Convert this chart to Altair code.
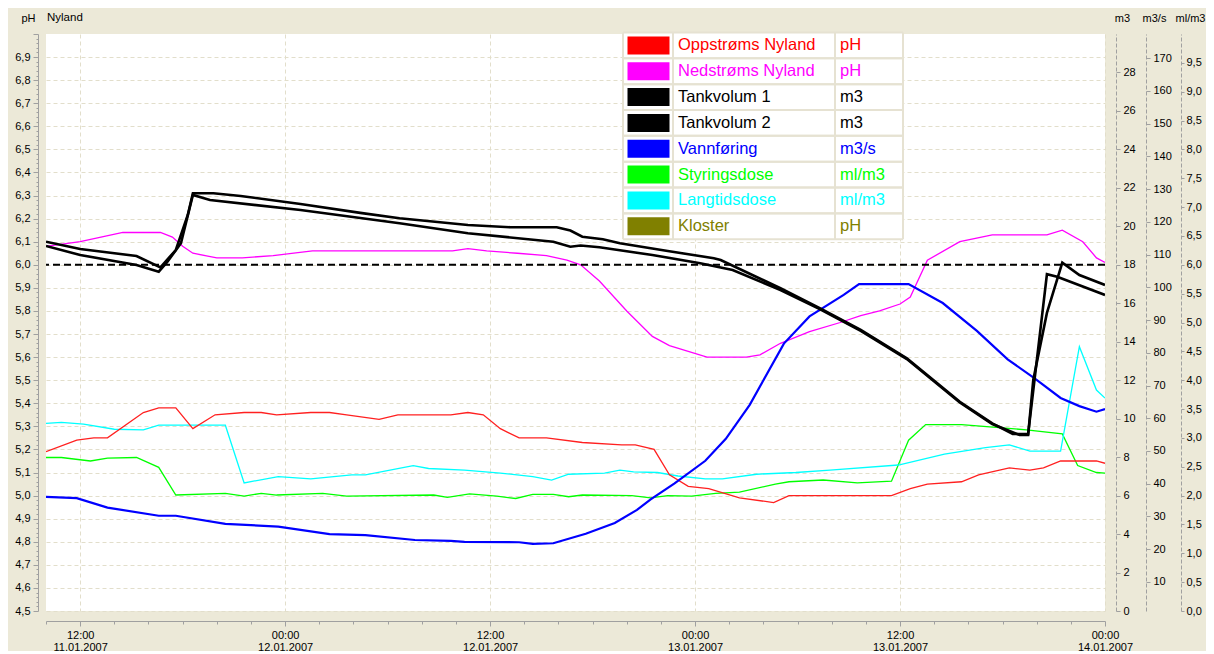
import altair as alt
import pandas as pd

FONT = "Liberation Sans"
GRID_C = "#E2DECB"
AXIS_C = "#A0A0A0"

# ---- time axis: hours counted from 11.01.2007 10:00 (left edge) to 14.01.2007 00:00 ----
x_ticks = list(range(0, 63, 2))

# ---- series (hours, value) ----
opp_t = [0, 1.8, 2.8, 3.6, 5.7, 6.6, 7.6, 8.6, 9.9, 11.6, 12.6, 13.5, 15.5, 16.6, 17.6, 19.5, 20.6,
         23.7, 24.7, 25.6, 26.6, 27.7, 29.3, 31.4, 33.7, 34.5, 35.6, 36.5, 37.6, 38.8, 40.6, 42.6,
         43.5, 49.5, 50.6, 51.6, 53.6, 54.6, 56.4, 57.6, 58.4, 59.4, 60.4, 61.5, 62]
opp_v = [5.19, 5.24, 5.25, 5.25, 5.36, 5.38, 5.38, 5.29, 5.35, 5.36, 5.36, 5.35, 5.36, 5.36, 5.35,
         5.33, 5.35, 5.35, 5.36, 5.35, 5.29, 5.25, 5.25, 5.23, 5.22, 5.22, 5.20, 5.09, 5.04, 5.03,
         4.99, 4.97, 5.00, 5.00, 5.03, 5.05, 5.06, 5.09, 5.12, 5.11, 5.12, 5.15, 5.15, 5.15, 5.14]

ned_t = [0, 2.0, 4.5, 6.7, 7.4, 8.0, 8.6, 10.0, 11.5, 13.3, 15.6, 21.9, 23.8, 24.7, 25.8, 27.6,
         29.3, 30.5, 31.3, 32.4, 34.0, 35.5, 36.5, 38.7, 41.0, 41.8, 43.0, 44.7, 46.5, 47.7, 48.8,
         50.0, 50.6, 51.6, 53.5, 55.4, 56.9, 58.6, 59.5, 60.7, 61.5, 62]
ned_v = [6.08, 6.10, 6.14, 6.14, 6.12, 6.08, 6.05, 6.03, 6.03, 6.04, 6.06, 6.06, 6.06, 6.07, 6.06,
         6.05, 6.04, 6.02, 6.00, 5.93, 5.80, 5.69, 5.65, 5.60, 5.60, 5.61, 5.66, 5.71, 5.75, 5.78,
         5.80, 5.83, 5.86, 6.02, 6.10, 6.13, 6.13, 6.13, 6.15, 6.10, 6.03, 6.01]

tank1_t = [0, 2.0, 5.3, 6.7, 7.6, 8.3, 8.6, 9.8, 11.4, 14.9, 18.4, 20.7, 24.7, 27.2, 29.9, 30.7,
           31.4, 32.6, 33.6, 36.4, 39.1, 39.5, 43.0, 45.3, 47.7, 50.4, 53.5, 55.4, 56.6, 57.5,
           58.6, 59.2, 62]
tank1_v = [19.20, 18.82, 18.46, 17.87, 18.77, 20.59, 21.72, 21.72, 21.58, 21.16, 20.70, 20.42,
           20.07, 19.95, 19.95, 19.78, 19.46, 19.33, 19.12, 18.72, 18.34, 18.25, 16.78, 15.74,
           14.61, 13.14, 10.88, 9.76, 9.20, 9.20, 17.51, 17.38, 16.43]

tank2_t = [0, 2.0, 5.3, 6.6, 7.1, 7.9, 8.6, 9.6, 14.9, 20.7, 24.7, 29.7, 30.7, 31.3, 32.4, 35.5,
           38.3, 40.2, 43.0, 45.3, 47.7, 50.4, 53.5, 55.4, 57.0, 57.5, 57.8, 58.6, 59.5, 60.5, 62]
tank2_v = [18.98, 18.51, 17.99, 17.64, 18.15, 19.12, 21.63, 21.37, 20.85, 20.16, 19.64, 19.20,
           18.94, 19.00, 18.91, 18.51, 18.08, 17.73, 16.69, 15.70, 14.56, 13.10, 10.84, 9.72,
           9.15, 9.15, 12.01, 15.50, 18.11, 17.47, 16.95]

vann_t = [0, 1.8, 3.6, 6.6, 7.6, 10.5, 13.6, 16.6, 18.7, 21.6, 23.7, 24.5, 27.7, 28.5, 29.7, 31.6,
          33.3, 34.6, 35.4, 36.8, 38.6, 39.8, 41.2, 43.2, 44.7, 46.7, 47.6, 50.5, 52.5, 54.5, 56.3,
          57.9, 59.4, 60.5, 61.5, 62]
vann_v = [36.0, 35.6, 32.7, 30.2, 30.2, 27.7, 26.9, 24.6, 24.3, 22.8, 22.5, 22.2, 22.1, 21.6, 21.8,
          24.7, 28.0, 32.0, 35.2, 40.1, 47.0, 53.7, 64.1, 82.8, 91.1, 97.7, 101.0, 101.0, 95.2,
          86.7, 78.0, 72.1, 66.2, 63.7, 62.0, 62.8]

styr_t = [0, 0.9, 2.6, 3.6, 5.3, 6.6, 7.6, 10.5, 11.6, 12.6, 13.5, 16.2, 17.6, 22.7, 23.5, 24.8,
          26.4, 27.5, 28.5, 29.7, 30.6, 31.4, 34.3, 35.4, 36.4, 37.8, 39.2, 40.6, 42.7, 43.5, 45.5,
          47.5, 49.5, 50.5, 51.5, 53.6, 57.4, 59.5, 60.4, 61.5, 62]
styr_v = [2.66, 2.66, 2.60, 2.65, 2.66, 2.49, 2.01, 2.04, 1.99, 2.04, 2.01, 2.04, 1.99, 2.01, 1.97,
          2.03, 1.99, 1.95, 2.02, 2.02, 1.98, 2.01, 2.00, 1.96, 2.00, 1.99, 2.04, 2.06, 2.20, 2.24,
          2.27, 2.22, 2.25, 2.96, 3.23, 3.23, 3.14, 3.07, 2.52, 2.40, 2.39]

lang_t = [0, 0.9, 2.2, 4.0, 5.7, 6.6, 10.5, 11.6, 13.6, 15.5, 17.9, 18.7, 21.5, 22.4, 24.5, 26.6,
          28.5, 29.6, 30.6, 32.7, 33.6, 34.4, 35.8, 37.0, 38.6, 39.6, 41.6, 43.9, 45.9, 49.9, 52.6,
          55.0, 56.4, 57.6, 59.4, 60.5, 61.5, 62]
lang_v = [3.25, 3.27, 3.24, 3.15, 3.14, 3.22, 3.22, 2.22, 2.33, 2.29, 2.36, 2.36, 2.52, 2.47, 2.44,
          2.39, 2.33, 2.27, 2.37, 2.39, 2.44, 2.41, 2.40, 2.34, 2.29, 2.29, 2.37, 2.40, 2.44, 2.53,
          2.72, 2.83, 2.88, 2.77, 2.77, 4.58, 3.83, 3.69]

ref_ph = [6.0]

legend_names = ["Oppstrøms Nyland", "Nedstrøms Nyland", "Tankvolum 1", "Tankvolum 2",
                "Vannføring", "Styringsdose", "Langtidsdose", "Kloster"]
legend_units = ["pH", "pH", "m3", "m3", "m3/s", "ml/m3", "ml/m3", "pH"]
legend_colors = ["#FF0000", "#FF00FF", "#000000", "#000000", "#0000FF", "#00FF00", "#00FFFF",
                 "#808000"]

ph_ticks = [round(4.5 + 0.02 * i, 2) for i in range(126)]
m3_ticks = list(range(0, 29, 2))
m3s_ticks = list(range(10, 171, 10))
mlm3_ticks = [round(0.5 * i, 1) for i in range(20)]


def series_df(name, t, v, color):
    return pd.DataFrame({"serie": name, "timer": t, "verdi": v, "farge": color})


major_x = "(datum.value + 10) % 12 == 0"
x_axis = alt.Axis(
    orient="bottom", offset=10, values=x_ticks, title=None,
    labelExpr="%s ? [utcFormat(utc(2007,0,11,10+datum.value),'%%H:%%M'), "
              "utcFormat(utc(2007,0,11,10+datum.value),'%%d.%%m.%%Y')] : ''" % major_x,
    labelLineHeight=12, labelOverlap=False, labelFlush=False, labelPadding=3,
    tickSize={"condition": {"test": major_x, "value": 5}, "value": 3},
    grid=True, gridColor=GRID_C, gridDash=[4, 3],
    gridOpacity={"condition": {"test": major_x, "value": 1}, "value": 0},
)
x_enc = alt.X("timer:Q", scale=alt.Scale(domain=[0, 62], nice=False, zero=False), axis=x_axis)

major_ph = "abs(datum.value*10 - round(datum.value*10)) < 0.01"
ph_axis = alt.Axis(
    orient="left", offset=8, values=ph_ticks,
    labelExpr="(%s && datum.value < 6.95) ? replace(format(datum.value, '.1f'), '.', ',') : ''" % major_ph,
    labelOverlap=False, labelPadding=3,
    tickSize={"condition": {"test": major_ph, "value": 5}, "value": 2},
    grid=True, gridColor=GRID_C, gridDash=[4, 3],
    gridOpacity={"condition": {"test": major_ph + " && datum.value < 6.95", "value": 1}, "value": 0},
    title="pH", titleAngle=0, titleX=-10, titleY=-16, titleAlign="center", titleBaseline="middle",
)


def right_axis(values, offset, title, tx, comma=False, tick=4, pad=3):
    kw = dict(orient="right", offset=offset, values=values, grid=False, labelOverlap=False,
              tickSize=tick, labelPadding=pad, domainDash=[4, 2],
              title=title, titleAngle=0, titleX=tx, titleY=-16, titleAlign="center",
              titleBaseline="middle")
    if comma:
        kw["labelExpr"] = "replace(format(datum.value, '.1f'), '.', ',')"
    else:
        kw["format"] = "d"
    return alt.Axis(**kw)


# ml/m3 layer
ml_df = pd.concat([series_df("Styringsdose", styr_t, styr_v, "#00FF00"),
                   series_df("Langtidsdose", lang_t, lang_v, "#00FFFF")])
ml_layer = alt.Chart(ml_df).mark_line(strokeWidth=1.3, clip=True).encode(
    x=x_enc,
    y=alt.Y("verdi:Q", scale=alt.Scale(domain=[0, 10], nice=False, zero=False),
            axis=right_axis(mlm3_ticks, 76, "ml/m3", 9, comma=True, tick=3, pad=2)),
    color=alt.Color("farge:N", scale=None), detail="serie:N")

# pH layer
ph_df = pd.concat([series_df("Oppstrøms Nyland", opp_t, opp_v, "#FF2020"),
                   series_df("Nedstrøms Nyland", ned_t, ned_v, "#FF00FF")])
ph_layer = alt.Chart(ph_df).mark_line(strokeWidth=1.3, clip=True).encode(
    x=x_enc,
    y=alt.Y("verdi:Q", scale=alt.Scale(domain=[4.5, 7.0], nice=False, zero=False), axis=ph_axis),
    color=alt.Color("farge:N", scale=None), detail="serie:N")

# m3/s layer
vann_df = series_df("Vannføring", vann_t, vann_v, "#0000FF")
vann_layer = alt.Chart(vann_df).mark_line(strokeWidth=2.2, clip=True, color="#0000FF").encode(
    x=x_enc,
    y=alt.Y("verdi:Q", scale=alt.Scale(domain=[1.1, 177.4], nice=False, zero=False),
            axis=right_axis(m3s_ticks, 41, "m3/s", 8)))

# m3 layer
tank_df = pd.concat([series_df("Tankvolum 1", tank1_t, tank1_v, "#000000"),
                     series_df("Tankvolum 2", tank2_t, tank2_v, "#000000")])
tank_layer = alt.Chart(tank_df).mark_line(strokeWidth=2.6, clip=True, color="black").encode(
    x=x_enc,
    y=alt.Y("verdi:Q", scale=alt.Scale(domain=[0, 30], nice=False, zero=False),
            axis=right_axis(m3_ticks, 11, "m3", 6)),
    detail="serie:N")

# dashed pH reference
rule_layer = alt.Chart(pd.DataFrame({"verdi": ref_ph})).mark_rule(
    strokeDash=[7, 4], strokeWidth=2, color="black").encode(
    y=alt.Y("verdi:Q", scale=alt.Scale(domain=[4.5, 7.0], nice=False, zero=False), axis=None))

# legend table
leg_df = pd.DataFrame({"rad": list(range(8)), "navn": legend_names, "enhet": legend_units,
                       "farge": legend_colors})
leg_y = alt.Y("rad:O", scale=alt.Scale(type="point", domain=list(range(8)),
                                       range=[11.4, 192.3], padding=0), axis=None)
one = pd.DataFrame({"a": [0]})
LX0, LX1, LX2, LX3 = 577, 627, 789, 857
LY0, LY1 = -1.5, 205.3
leg_bg = alt.Chart(one).mark_rect(color="white").encode(
    x=alt.value(LX0), x2=alt.value(LX3), y=alt.value(LY0), y2=alt.value(LY1))
leg_h1 = alt.Chart(leg_df).mark_rule(color="#E6E2D2", strokeWidth=2, yOffset=12.93).encode(
    y=leg_y, x=alt.value(LX0), x2=alt.value(LX3))
leg_h0 = alt.Chart(leg_df).mark_rule(color="#E6E2D2", strokeWidth=2, yOffset=-12.93).encode(
    y=leg_y, x=alt.value(LX0), x2=alt.value(LX3))
leg_v = [alt.Chart(one).mark_rule(color="#E6E2D2", strokeWidth=2).encode(
    x=alt.value(px), y=alt.value(LY0), y2=alt.value(LY1)) for px in (LX0, LX1, LX2, LX3)]
leg_sw = alt.Chart(leg_df).mark_rule(strokeWidth=18).encode(
    y=leg_y, x=alt.value(581.5), x2=alt.value(623.5), color=alt.Color("farge:N", scale=None))
leg_name = alt.Chart(leg_df).mark_text(align="left", baseline="middle", font=FONT,
                                       fontSize=16.5).encode(
    y=leg_y, x=alt.value(632), text="navn:N", color=alt.Color("farge:N", scale=None))
leg_unit = alt.Chart(leg_df).mark_text(align="left", baseline="middle", font=FONT,
                                       fontSize=16.5).encode(
    y=leg_y, x=alt.value(794), text="enhet:N", color=alt.Color("farge:N", scale=None))
legend_layer = alt.layer(leg_bg, leg_h0, leg_h1, *leg_v, leg_sw, leg_name, leg_unit)

title_layer = alt.Chart(pd.DataFrame({"t": ["Nyland"]})).mark_text(
    align="left", baseline="middle", font=FONT, fontSize=11.5, color="black").encode(
    text="t:N", x=alt.value(1), y=alt.value(-16))

chart = alt.layer(
    ml_layer, ph_layer, vann_layer, tank_layer, rule_layer, legend_layer, title_layer
).resolve_scale(y="independent").properties(
    width=1059, height=577,
    padding={"left": 38, "top": 26, "right": 101, "bottom": 40},
    autosize=alt.AutoSizeParams(type="none"),
    background="#ECE9D8",
).configure_view(fill="white", stroke=None).configure_axis(
    labelFont=FONT, labelFontSize=11, labelColor="black",
    titleFont=FONT, titleFontSize=11, titleFontWeight="normal", titleColor="black",
    domainColor=AXIS_C, tickColor=AXIS_C,
)

chart.save("out.html", embed_options={"renderer": "svg", "actions": False})
